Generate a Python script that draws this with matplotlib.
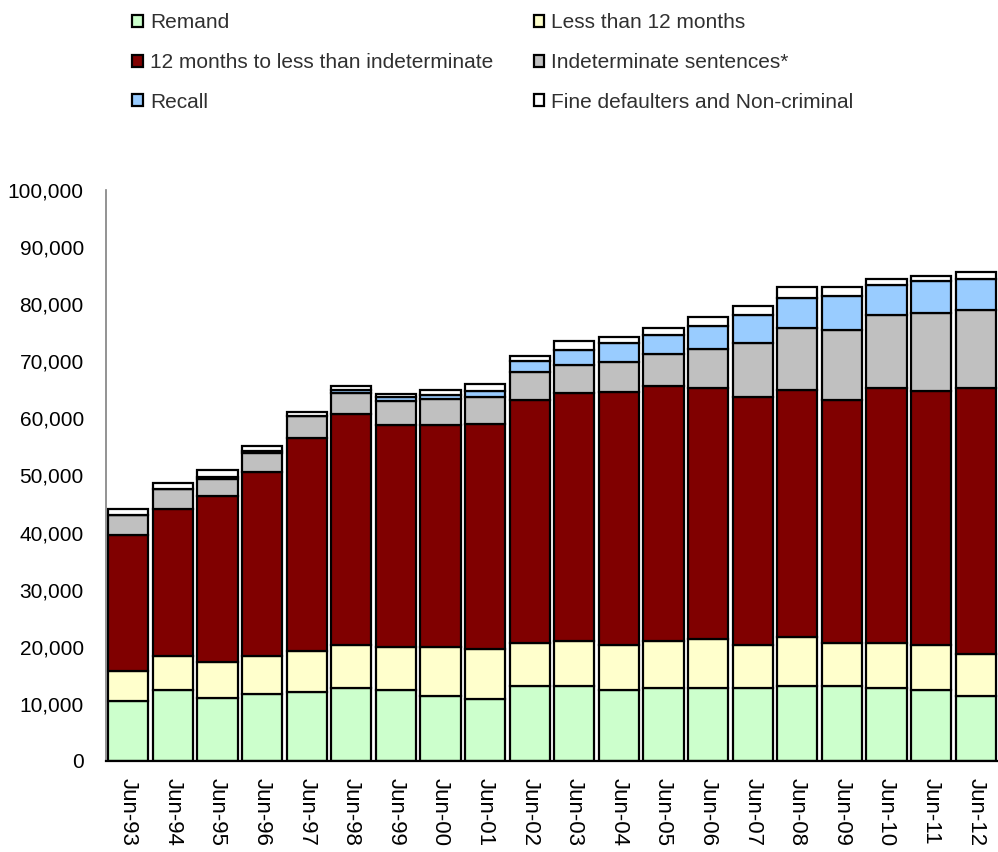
import matplotlib
matplotlib.use("Agg")
import matplotlib.pyplot as plt
import numpy as np
from matplotlib.ticker import FuncFormatter

plt.rcParams['font.family'] = ['Liberation Sans', 'DejaVu Sans']

years = ["Jun-93", "Jun-94", "Jun-95", "Jun-96", "Jun-97", "Jun-98", "Jun-99", "Jun-00",
         "Jun-01", "Jun-02", "Jun-03", "Jun-04", "Jun-05", "Jun-06", "Jun-07", "Jun-08",
         "Jun-09", "Jun-10", "Jun-11", "Jun-12"]

remand = [10500, 12400, 11000, 11700, 12000, 12800, 12400, 11300, 10900, 13100,
          13200, 12400, 12800, 12800, 12800, 13200, 13200, 12800, 12400, 11300]
less_12 = [5300, 6000, 6300, 6700, 7300, 7500, 7500, 8600, 8700, 7600,
           7800, 7900, 8300, 8600, 7500, 8600, 7500, 7900, 7900, 7400]
twelve_to_indet = [23800, 25700, 29100, 32200, 37200, 40500, 38900, 38900, 39500, 42600,
                   43500, 44300, 44600, 43900, 43500, 43200, 42600, 44600, 44500, 46600]
indeterminate = [3400, 3500, 3000, 3300, 3900, 3600, 4200, 4600, 4700, 4900,
                 4900, 5200, 5600, 6800, 9400, 10800, 12200, 12800, 13700, 13600]
recall = [0, 0, 400, 400, 100, 500, 700, 700, 1000, 1900,
          2600, 3400, 3300, 4100, 4900, 5200, 5900, 5300, 5600, 5600]
fine_noncrim = [1100, 1100, 1200, 900, 700, 800, 600, 900, 1200, 900,
                1600, 1100, 1200, 1500, 1500, 2000, 1600, 1100, 800, 1200]

series = [
    ("Remand", remand, "#CCFFCC"),
    ("Less than 12 months", less_12, "#FFFFCC"),
    ("12 months to less than indeterminate", twelve_to_indet, "#800000"),
    ("Indeterminate sentences*", indeterminate, "#C0C0C0"),
    ("Recall", recall, "#99CCFF"),
    ("Fine defaulters and Non-criminal", fine_noncrim, "#FFFFFF"),
]

fig = plt.figure(figsize=(9.98, 8.52), dpi=100)
ax = fig.add_axes([106/998, 1 - 761/852, 1 - 106/998, (761 - 190)/852])

x = np.arange(len(years))
bottom = np.zeros(len(years))
handles = {}
for name, vals, col in series:
    v = np.array(vals, dtype=float)
    h = ax.bar(x, v, bottom=bottom, width=0.9, color=col, edgecolor="black",
               linewidth=1.6, label=name)
    handles[name] = h
    bottom += v

ax.set_xlim(-0.5, len(years) - 0.5)
ax.set_ylim(0, 100000)
ax.set_yticks(np.arange(0, 100001, 10000))
ax.yaxis.set_major_formatter(FuncFormatter(lambda v, p: f"{int(v):,}"))
ax.set_xticks(x)
ax.set_xticklabels(years, rotation=270, fontsize=16)
ax.tick_params(axis='y', length=0, pad=16, labelsize=15)
ax.tick_params(axis='x', length=0, pad=12)
for s in ["top", "right"]:
    ax.spines[s].set_visible(False)
ax.spines["left"].set_color("#808080")
ax.spines["left"].set_linewidth(1.2)
ax.spines["bottom"].set_color("black")
ax.spines["bottom"].set_linewidth(1.6)

order = ["Remand", "12 months to less than indeterminate", "Recall",
         "Less than 12 months", "Indeterminate sentences*", "Fine defaulters and Non-criminal"]
leg = fig.legend([handles[n] for n in order], order, loc="upper left",
                 bbox_to_anchor=(128/998, 1 - 9/852), ncol=2, frameon=False,
                 fontsize=15, handlelength=0.5, handleheight=0.5,
                 handletextpad=0.35, columnspacing=1.95, labelspacing=1.0,
                 borderaxespad=0, borderpad=0.2)
for t in leg.get_texts():
    t.set_color("#303030")

fig.savefig("out.png", dpi=100)
